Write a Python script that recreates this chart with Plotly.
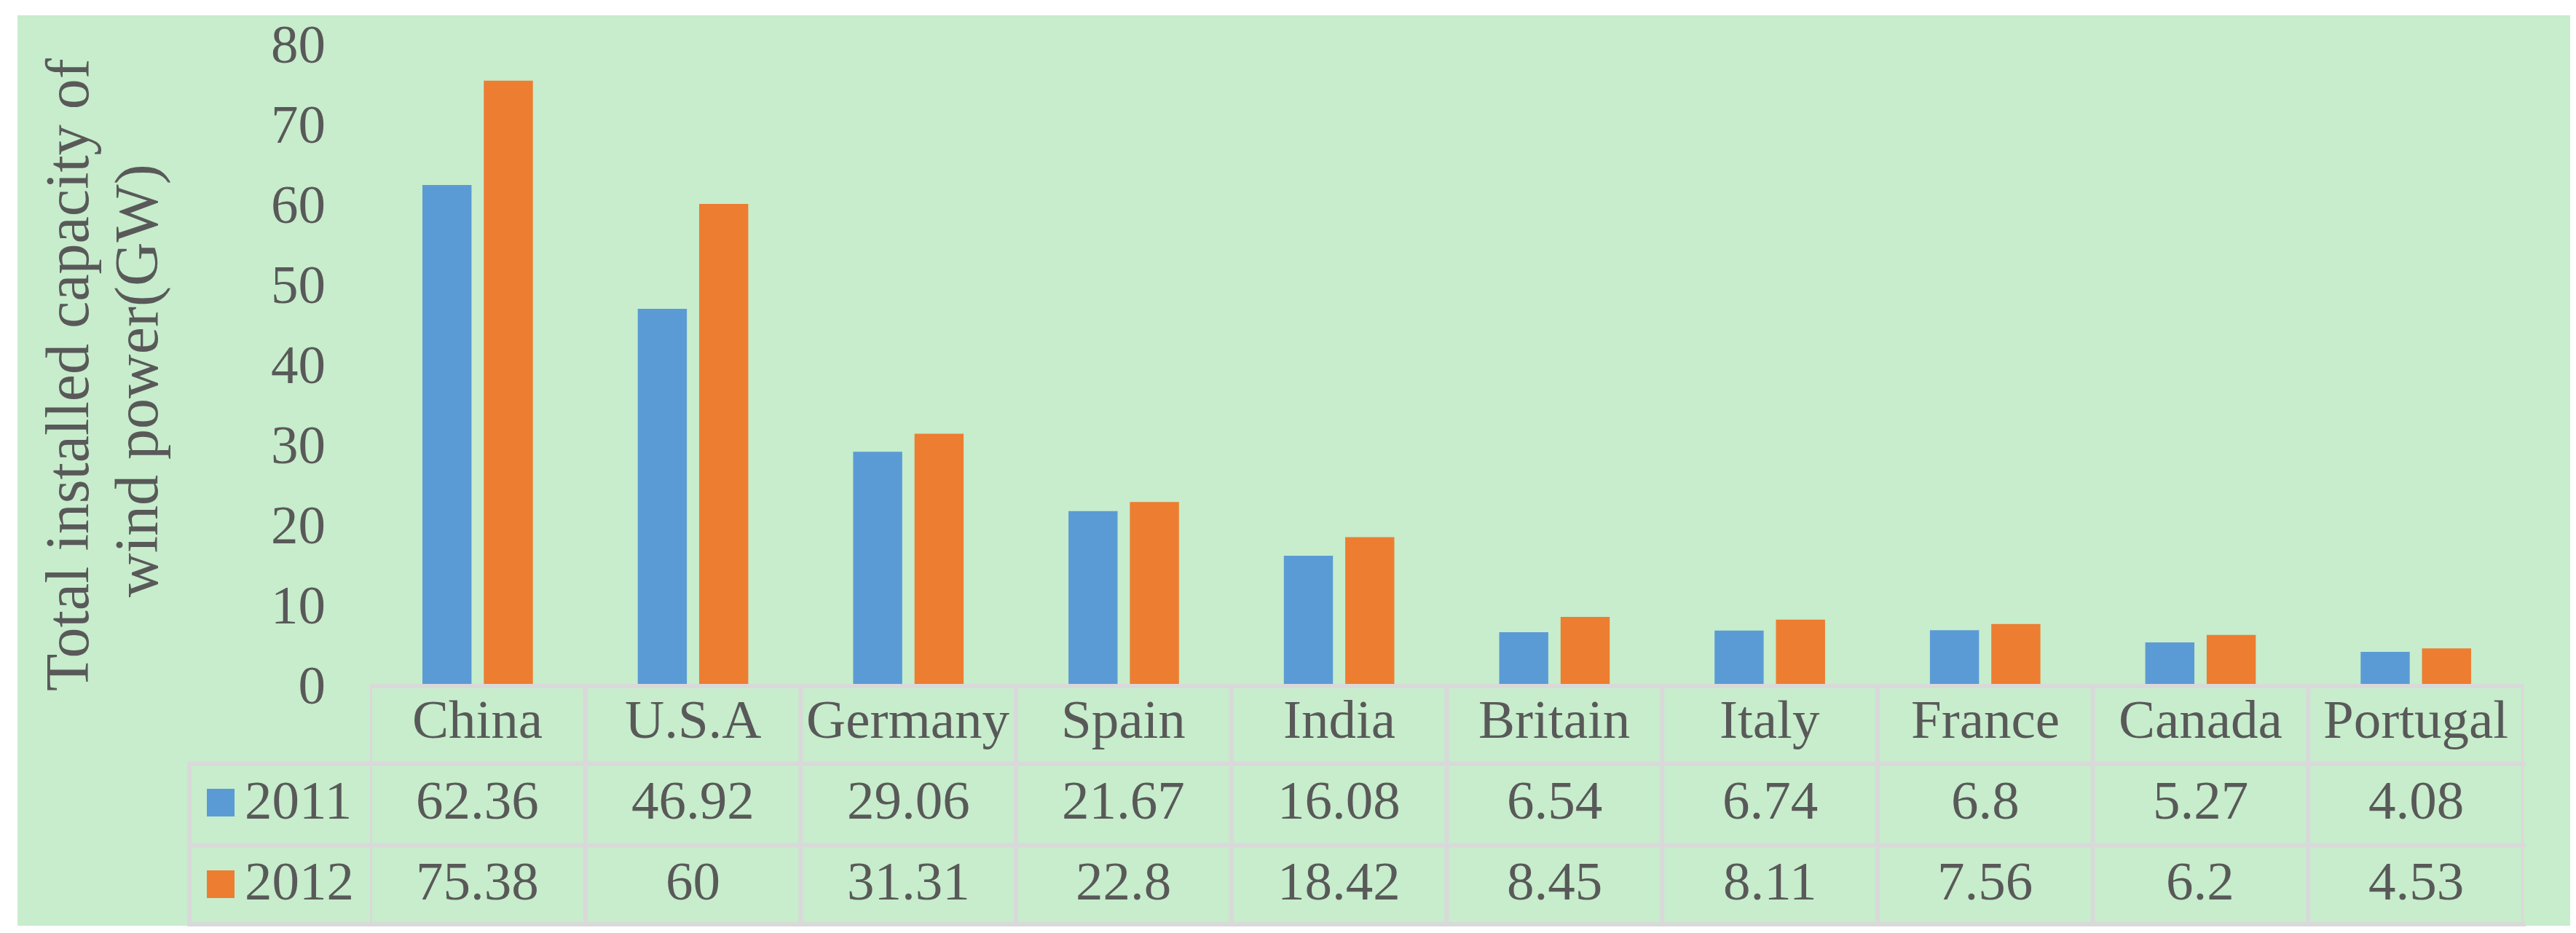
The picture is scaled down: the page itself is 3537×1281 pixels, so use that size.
import plotly.graph_objects as go

categories = ["China", "U.S.A", "Germany", "Spain", "India", "Britain", "Italy", "France", "Canada", "Portugal"]
series_names = ["2011", "2012"]
values_2011 = [62.36, 46.92, 29.06, 21.67, 16.08, 6.54, 6.74, 6.8, 5.27, 4.08]
values_2012 = [75.38, 60, 31.31, 22.8, 18.42, 8.45, 8.11, 7.56, 6.2, 4.53]
y_ticks = [0, 10, 20, 30, 40, 50, 60, 70, 80]
y_title_lines = ["Total installed capacity of", "wind power(GW)"]

W, H = 3537, 1281
L_PX, R_PX, T_PX, B_PX = 500, 3457, 52, 932
PW, PH = R_PX - L_PX, B_PX - T_PX

def px(xp):
    return (xp - L_PX) / PW

def py(yp):
    return (B_PX - yp) / PH

BLUE = "#5B9BD5"
ORANGE = "#ED7D31"
BG = "#C7EDCC"
TXT = "#595959"
GRID = "#D9D9D9"
FONT = "Liberation Serif, Times New Roman, serif"
FS = 75

fig = go.Figure()
fig.add_trace(go.Bar(x=list(range(len(categories))), y=values_2011, name=series_names[0],
                     marker=dict(color=BLUE, line=dict(width=0)), showlegend=False))
fig.add_trace(go.Bar(x=list(range(len(categories))), y=values_2012, name=series_names[1],
                     marker=dict(color=ORANGE, line=dict(width=0)), showlegend=False))

shapes = []
# green chart-area background
shapes.append(dict(type="rect", xref="paper", yref="paper", x0=px(16), x1=px(3524), y0=py(13), y1=py(1263),
                   fillcolor=BG, line=dict(width=0), layer="below"))

LW = 6
n = len(categories)
y_top, y_r1, y_r2, y_bot = 934, 1040.5, 1152.5, 1261
x_leg = 252
# horizontal table lines
shapes.append(dict(type="line", xref="x", yref="paper", x0=-0.5, x1=n - 0.5, y0=py(y_top), y1=py(y_top),
                   line=dict(color=GRID, width=LW)))
for yy in (y_r1, y_r2, y_bot):
    shapes.append(dict(type="line", xref="paper", yref="paper", x0=px(x_leg) - 0.001, x1=1.001, y0=py(yy), y1=py(yy),
                       line=dict(color=GRID, width=LW)))
# vertical table lines
for i in range(n + 1):
    shapes.append(dict(type="line", xref="x", yref="paper", x0=i - 0.5, x1=i - 0.5, y0=py(y_top), y1=py(y_bot),
                       line=dict(color=GRID, width=LW)))
shapes.append(dict(type="line", xref="paper", yref="paper", x0=px(x_leg), x1=px(x_leg), y0=py(y_r1), y1=py(y_bot),
                   line=dict(color=GRID, width=LW)))
# legend keys
for yc, col in ((1094, BLUE), (1206, ORANGE)):
    shapes.append(dict(type="rect", xref="paper", yref="paper", x0=px(276), x1=px(314), y0=py(yc - 19), y1=py(yc + 19),
                       fillcolor=col, line=dict(width=0)))

annotations = []
for i, c in enumerate(categories):
    annotations.append(dict(x=i, y=py(980), xref="x", yref="paper", text=c, showarrow=False,
                            xanchor="center", yanchor="middle", font=dict(family=FONT, size=FS, color=TXT)))
    annotations.append(dict(x=i, y=py(1090), xref="x", yref="paper", text=str(values_2011[i]), showarrow=False,
                            xanchor="center", yanchor="middle", font=dict(family=FONT, size=FS, color=TXT)))
    annotations.append(dict(x=i, y=py(1201), xref="x", yref="paper", text=str(values_2012[i]), showarrow=False,
                            xanchor="center", yanchor="middle", font=dict(family=FONT, size=FS, color=TXT)))
for yc, nm in ((1090, series_names[0]), (1201, series_names[1])):
    annotations.append(dict(x=px(326), y=py(yc), xref="paper", yref="paper", text=nm, showarrow=False,
                            xanchor="left", yanchor="middle", font=dict(family=FONT, size=FS, color=TXT)))
# y-axis title (two lines)
for xc, yc, t in ((84, 507, y_title_lines[0]), (180, 515, y_title_lines[1])):
    annotations.append(dict(x=px(xc), y=py(yc), xref="paper", yref="paper", text=t, showarrow=False, textangle=-90,
                            xanchor="center", yanchor="middle", font=dict(family=FONT, size=84, color=TXT)))

fig.update_layout(
    width=W, height=H,
    margin=dict(l=L_PX, r=W - R_PX, t=T_PX, b=H - B_PX, pad=0),
    paper_bgcolor="white", plot_bgcolor="rgba(0,0,0,0)",
    barmode="group", bargap=0.43, bargroupgap=0.2,
    shapes=shapes, annotations=annotations,
    xaxis=dict(range=[-0.5, n - 0.5], showticklabels=False, showgrid=False, zeroline=False, showline=False,
               ticks="", fixedrange=True),
    yaxis=dict(range=[0, 80], tickvals=y_ticks, showgrid=False, zeroline=False, showline=False, ticks="",
               ticklabelstandoff=60, tickfont=dict(family=FONT, size=FS, color=TXT)),
    font=dict(family=FONT, color=TXT),
)

fig.write_html("out.html")
